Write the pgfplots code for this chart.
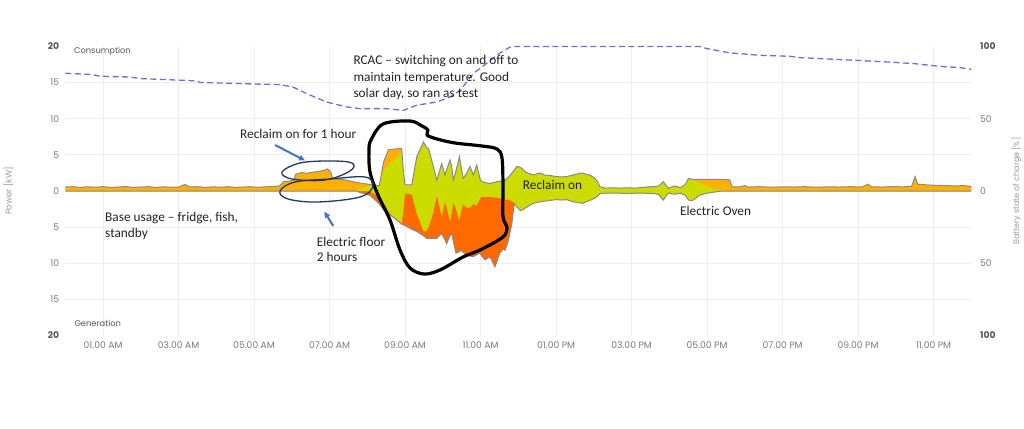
\documentclass[border=0pt]{standalone}
\usepackage{fontspec}
\setmainfont{Carlito}
\newfontfamily\pop{Poppins}
\usepackage{pgfplots}
\pgfplotsset{compat=1.18}
\usepackage{pgfplotstable}
\usepgfplotslibrary{fillbetween}
\usetikzlibrary{arrows.meta}

\definecolor{amber}{HTML}{FFB000}
\definecolor{limeg}{HTML}{CCDC00}
\definecolor{dorange}{HTML}{FF6A00}
\definecolor{outl}{HTML}{8A8A8A}
\definecolor{socc}{HTML}{6E6ED8}
\definecolor{gridc}{HTML}{EDEDED}
\definecolor{tickc}{HTML}{7A7A7A}
\definecolor{tickb}{HTML}{555555}
\definecolor{labc}{HTML}{9A9A9A}
\definecolor{navy}{HTML}{203864}
\definecolor{arrowc}{HTML}{4472C4}
\definecolor{txt}{HTML}{222222}

\pgfplotstableread{
t c ga gb p
0.00 0.55 0 0 0
0.20 0.60 0 0 0
0.40 0.50 0 0 0
0.60 0.58 0 0 0
0.80 0.52 0 0 0
1.00 0.60 0 0 0
1.20 0.50 0 0 0
1.40 0.55 0 0 0
1.60 0.62 0 0 0
1.80 0.50 0 0 0
2.00 0.55 0 0 0
2.20 0.60 0 0 0
2.40 0.50 0 0 0
2.60 0.58 0 0 0
2.80 0.52 0 0 0
3.00 0.55 0 0 0
3.17 0.90 0 0 0
3.30 0.55 0 0 0
3.50 0.60 0 0 0
3.70 0.50 0 0 0
3.90 0.58 0 0 0
4.10 0.52 0 0 0
4.30 0.60 0 0 0
4.50 0.50 0 0 0
4.70 0.55 0 0 0
4.90 0.60 0 0 0
5.10 0.52 0 0 0
5.30 0.58 0 0 0
5.50 0.62 0 0 0
5.68 0.70 0 0 0
5.78 1.30 0 0 0
5.95 1.40 0 0 0
6.05 1.45 0 0 0
6.10 2.30 0 0 0
6.25 2.55 0 0 0
6.40 2.45 0 0 0
6.55 2.60 0 0 0
6.70 2.70 0 0 0
6.85 2.85 0 0 0
6.95 3.05 0 0 0
7.03 2.60 0 0 0
7.08 1.75 0 0 0
7.25 1.65 0 0 0
7.45 1.50 0 0 0
7.60 1.30 0 0 0
7.70 1.20 0.05 0 0
7.80 1.10 0.25 0 -0.2
7.95 1.00 0.55 0 -0.4
8.07 0.90 0.70 -0.1 -0.6
8.20 0.80 0.75 -0.4 -1.2
8.32 0.75 0.75 -0.9 -1.8
8.43 4.00 2.90 -2.2 -2.6
8.56 5.70 3.50 -2.9 -3.1
8.70 5.80 4.30 -3.6 -3.7
8.91 5.90 5.40 -4.5 -4.6
8.96 2.50 2.50 -2.5 -4.7
9.00 0.85 0.85 -0.3 -4.8
9.18 0.85 0.85 -0.5 -5.3
9.31 4.75 4.75 -3.1 -5.6
9.49 6.80 6.80 -5.6 -6.2
9.57 6.00 6.00 -5.5 -6.55
9.62 5.90 5.90 -5.0 -6.55
9.75 3.40 3.40 -3.0 -6.55
9.84 1.50 1.50 -0.6 -6.55
9.97 3.80 3.80 -3.5 -5.9
10.06 2.20 2.20 -1.5 -6.8
10.10 2.90 2.90 -2.2 -7.3
10.19 4.30 4.30 -4.2 -6.2
10.24 3.20 3.20 -3.0 -5.9
10.28 1.50 1.50 -1.5 -7.0
10.35 2.80 2.80 -2.5 -8.6
10.44 4.75 4.75 -4.0 -8.4
10.50 2.90 2.90 -2.5 -8.2
10.54 1.75 1.75 -1.8 -8.5
10.63 2.45 2.45 -2.3 -8.9
10.72 3.40 3.40 -2.3 -9.0
10.81 2.20 2.20 -1.8 -9.1
10.90 3.60 3.60 -2.0 -8.8
10.99 1.60 1.60 -1.0 -8.6
11.03 1.30 1.30 -0.8 -9.0
11.12 1.15 1.15 -0.8 -9.55
11.25 1.05 1.05 -0.8 -9.1
11.38 1.20 1.20 -0.9 -10.5
11.43 1.30 1.30 -0.9 -9.8
11.51 1.35 1.35 -1.0 -8.6
11.60 1.45 1.45 -1.1 -8.0
11.65 1.50 1.50 -1.2 -8.2
11.74 1.90 1.90 -1.2 -6.8
11.83 2.50 2.50 -1.4 -4.5
11.89 2.90 2.90 -1.6 -1.8
11.96 3.40 3.40 -2.2 -2.2
12.05 3.30 3.30 -2.7 -2.7
12.12 3.00 3.00 -2.6 -2.6
12.20 2.60 2.60 -2.3 -2.3
12.30 2.40 2.40 -2.0 -2.0
12.40 2.20 2.20 -1.7 -1.7
12.50 2.40 2.40 -1.6 -1.6
12.57 2.50 2.50 -1.5 -1.5
12.70 2.20 2.20 -1.4 -1.4
12.84 2.15 2.15 -1.3 -1.3
13.00 2.00 2.00 -1.2 -1.2
13.15 1.95 1.95 -1.25 -1.25
13.28 2.00 2.00 -1.2 -1.2
13.40 2.15 2.15 -1.4 -1.4
13.55 2.35 2.35 -1.6 -1.6
13.70 2.50 2.50 -1.7 -1.7
13.80 2.30 2.30 -1.5 -1.5
13.90 2.20 2.20 -1.3 -1.3
14.02 1.80 1.80 -1.0 -1.0
14.10 1.30 1.30 -0.7 -0.7
14.16 0.60 0.60 -0.35 -0.35
14.30 0.40 0.40 -0.30 -0.30
14.50 0.45 0.45 -0.30 -0.30
14.70 0.40 0.40 -0.30 -0.30
14.90 0.45 0.45 -0.35 -0.35
15.10 0.40 0.40 -0.30 -0.30
15.30 0.50 0.50 -0.30 -0.30
15.50 0.60 0.60 -0.35 -0.35
15.60 0.60 0.60 -0.35 -0.35
15.72 0.70 0.70 -0.50 -0.50
15.84 1.30 1.30 -1.25 -1.25
15.97 0.40 0.40 -0.30 -0.30
16.15 0.70 0.70 -0.45 -0.45
16.30 0.45 0.45 -0.30 -0.30
16.42 0.90 0.90 -0.60 -0.60
16.51 1.75 1.75 -1.25 -1.25
16.60 1.65 1.55 -1.35 -1.35
16.68 1.60 1.40 -1.10 -1.10
16.81 1.60 1.05 -0.55 -0.55
17.00 1.60 0.60 -0.30 -0.30
17.26 1.60 0.20 -0.10 -0.10
17.40 1.60 0.05 0 0
17.60 1.55 0 0 0
17.66 0.60 0 0 0
17.85 0.55 0 0 0
18.00 0.75 0 0 0
18.10 0.55 0 0 0
18.40 0.60 0 0 0
18.70 0.52 0 0 0
19.00 0.58 0 0 0
19.30 0.55 0 0 0
19.60 0.60 0 0 0
19.90 0.52 0 0 0
20.20 0.58 0 0 0
20.50 0.55 0 0 0
20.80 0.60 0 0 0
21.10 0.55 0 0 0
21.27 0.95 0 0 0
21.35 0.58 0 0 0
21.60 0.55 0 0 0
21.90 0.60 0 0 0
22.20 0.58 0 0 0
22.42 0.65 0 0 0
22.51 2.00 0 0 0
22.58 0.95 0 0 0
22.80 0.85 0 0 0
23.00 0.80 0 0 0
23.30 0.75 0 0 0
23.60 0.70 0 0 0
23.80 0.75 0 0 0
24.00 0.62 0 0 0
}\energy

\pgfplotstableread{
t soc
0.00 81.5
0.70 80.6
0.92 79.4
1.70 78.9
1.98 77.8
3.04 76.7
3.48 76.2
3.57 75.1
5.07 74.0
5.69 73.6
6.03 72.0
6.39 67.4
6.92 61.6
7.45 58.2
7.80 57.0
8.50 57.0
8.96 55.8
9.30 59.3
9.84 61.6
10.20 65.1
10.46 69.7
10.81 81.3
11.16 88.3
11.50 95.2
11.78 99.6
11.90 100
16.80 100
17.00 98.5
17.60 95.6
18.40 93.9
19.20 93.2
19.46 92.3
20.87 90.5
21.76 89.3
22.46 88.2
23.16 86.3
23.70 85.4
24.00 84.2
}\soc

\begin{document}
\begin{tikzpicture}
\begin{axis}[
  scale only axis, width=906pt, height=289pt,
  xmin=0, xmax=24, ymin=-20, ymax=20,
  axis line style={draw=none},
  major tick length=0pt,
  /pgf/number format/assume math mode=true,
  xtick={1,3,...,23},
  xticklabels={01.00 AM,03.00 AM,05.00 AM,07.00 AM,09.00 AM,11.00 AM,01.00 PM,03.00 PM,05.00 PM,07.00 PM,09.00 PM,11.00 PM},
  xmajorgrids,
  grid style={color=gridc, line width=0.9pt},
  ytick={-20,-15,...,20},
  yticklabels={\textcolor{tickb}{\bfseries 20},15,10,5,0,5,10,15,\textcolor{tickb}{\bfseries 20}},
  extra y ticks={-15,-10,-5,5,10,15},
  extra y tick labels={},
  extra y tick style={grid=major},
  xticklabel style={font=\pop\fontsize{9.2}{10}\selectfont, text=tickc, anchor=center, yshift=-10pt},
  yticklabel style={font=\pop\fontsize{9.2}{10}\selectfont, text=tickc, anchor=east, inner sep=0pt, xshift=-6pt},
  clip=false,
]
\addplot[draw=none, fill=amber] table[x=t, y=c] {\energy} \closedcycle;
\addplot[draw=none, fill=dorange] table[x=t, y=p] {\energy} \closedcycle;
\addplot[draw=none, name path=gup] table[x=t, y=ga] {\energy};
\addplot[draw=none, name path=gdn] table[x=t, y=gb] {\energy};
\addplot[fill=limeg, draw=none] fill between[of=gup and gdn, on layer=main];
\addplot[outl, line width=1pt] table[x=t, y=c] {\energy};
\addplot[outl, line width=1pt] table[x=t, y=p] {\energy};
\end{axis}

\begin{axis}[
  scale only axis, width=906pt, height=289pt,
  xmin=0, xmax=24, ymin=-100, ymax=100,
  axis y line*=right, axis x line=none,
  axis line style={draw=none},
  major tick length=0pt,
  /pgf/number format/assume math mode=true,
  ytick={-100,-50,0,50,100},
  yticklabels={\textcolor{tickb}{\bfseries 100},50,0,50,\textcolor{tickb}{\bfseries 100}},
  yticklabel style={font=\pop\fontsize{9.2}{10}\selectfont, text=tickc, anchor=west, inner sep=0pt, xshift=8.7pt},
  clip=false,
]
\addplot[socc, line width=1.3pt, dash pattern=on 6pt off 3.5pt] table[x=t, y=soc] {\soc};
\end{axis}

\begin{scope}[x=1pt, y=-1pt, shift={(-65.3pt,335.5pt)}]
  % axis labels
  \node[rotate=90, font=\pop\fontsize{8.5}{9}\selectfont, text=labc] at (8.5,191) {Power [kW]};
  \node[rotate=90, font=\pop\fontsize{8}{9}\selectfont, text=labc] at (1016.5,191) {Battery state of charge [\%]};
  \node[anchor=base west, inner sep=0pt, font=\pop\fontsize{8.3}{9}\selectfont, text=tickb] at (74,54) {Consumption};
  \node[anchor=base west, inner sep=0pt, font=\pop\fontsize{8.3}{9}\selectfont, text=tickb] at (74.3,326.5) {Generation};
  % hand-drawn annotations
  \draw[black, line width=3.2pt, line join=round] plot[smooth cycle, tension=0.55] coordinates {
    (371,140) (383,124) (410,121) (422,126) (428,130) (427,135) (437,139) (455,143) (482,146) (497,149)
    (502,158) (503,187) (503,217) (507,227) (503,237) (480,250) (463,257) (440,270) (424,274)
    (410,268) (400,250) (390,220) (378,195) (370,172) (369,150)};
  \draw[navy, line width=1.3pt] plot[smooth cycle, tension=0.6] coordinates {
    (282,172) (300,163) (330,161) (352,163) (350,171) (325,180) (292,179)};
  \draw[navy, line width=1.3pt] plot[smooth cycle, tension=0.6] coordinates {
    (280,191) (295,182) (330,179) (365,177) (373,186) (360,197) (318,202) (288,199)};
  \draw[arrowc, line width=2pt, -{Triangle[length=6pt, width=5.5pt]}] (275,145) -- (305,160.5);
  \draw[arrowc, line width=2pt, -{Triangle[length=6pt, width=5.5pt]}] (333.3,226) -- (324.3,211.7);
  % annotation text
  \begin{scope}[every node/.style={anchor=base west, inner sep=0pt, text=txt, font=\fontsize{13.3}{16}\selectfont}]
    \node at (353.3,65) {RCAC – switching on and off to};
    \node at (353.3,81.5) {maintain temperature. Good};
    \node at (353.3,98) {solar day, so ran as test};
    \node at (240,139) {Reclaim on for 1 hour};
    \node at (105,222) {Base usage – fridge, fish,};
    \node at (105,238) {standby};
    \node at (316.7,246.5) {Electric floor};
    \node at (316.7,262) {2 hours};
    \node at (522.7,190) {Reclaim on};
    \node at (680,216) {Electric Oven};
  \end{scope}
  \pgfresetboundingbox
  \path[use as bounding box] (0,0) rectangle (1024,428);
\end{scope}
\end{tikzpicture}
\end{document}
